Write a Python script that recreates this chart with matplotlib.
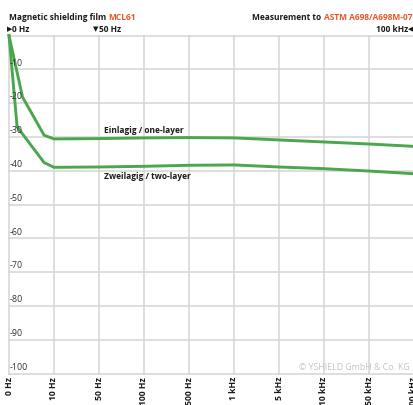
import matplotlib
matplotlib.use("Agg")
import matplotlib.pyplot as plt

plt.rcParams['font.family'] = ['Open Sans', 'DejaVu Sans']

# ---- data ----
categories = ["0 Hz", "10 Hz", "50 Hz", "100 Hz", "500 Hz", "1 kHz",
              "5 kHz", "10 kHz", "50 kHz", "100 kHz"]
cat_pos = list(range(len(categories)))

one_layer_x = [0, 0.30, 0.78, 1, 2, 3, 4, 5, 6, 7, 8, 9]
one_layer_y = [0, -18.2, -29.5, -30.6, -30.5, -30.3, -30.2, -30.3, -30.9, -31.5, -32.1, -32.8]

two_layer_x = [0, 0.18, 0.78, 1, 2, 3, 4, 5, 6, 7, 8, 9]
two_layer_y = [0, -27.0, -37.6, -39.0, -38.9, -38.7, -38.4, -38.3, -38.9, -39.4, -40.1, -40.9]

y_ticks = [0, -10, -20, -30, -40, -50, -60, -70, -80, -90, -100]

GREEN = "#4aa64f"
ORANGE = "#e8552b"
GRID = "#d4d4d4"
DARK = "#1a1a1a"

W, H = 413, 405
fig = plt.figure(figsize=(W / 100, H / 100), dpi=100)
x0, x1 = 9, 413
y_top, y_bot = 35.5, 373.5
ax = fig.add_axes([x0 / W, (H - y_bot) / H, (x1 - x0) / W, (y_bot - y_top) / H])
ax.set_xlim(0, (x1 - x0) / 45.0)
ax.set_ylim(-100, 0)
for s in ax.spines.values():
    s.set_visible(False)
ax.set_xticks([])
ax.set_yticks([])

for p in cat_pos:
    ax.axvline(p, color=GRID, lw=1.1, zorder=1, clip_on=False)
for v in y_ticks:
    ax.axhline(v, color=GRID, lw=1.1, zorder=1, clip_on=False)

ax.plot(one_layer_x, one_layer_y, color=GREEN, lw=2.1, zorder=3, solid_joinstyle='round', clip_on=False)
ax.plot(two_layer_x, two_layer_y, color=GREEN, lw=2.1, zorder=3, solid_joinstyle='round', clip_on=False)

# y tick labels inside plot, above gridlines
for v in y_ticks[1:]:
    ax.text(0.02, v + 0.5, str(v), fontsize=6.4, color="#333333", ha='left', va='bottom', zorder=4)

# x tick labels rotated
for p, lab in zip(cat_pos, categories):
    fig.text((x0 + 45 * p) / W, (H - 377) / H, lab, rotation=90, ha='center', va='top',
             fontsize=6.2, fontweight='bold', color=DARK)

# series labels
ax.text(2.1, -29.4, "Einlagig / one-layer", fontsize=6.0, fontweight='bold', color=DARK,
        ha='left', va='bottom')
ax.text(2.1, -40.3, "Zweilagig / two-layer", fontsize=6.0, fontweight='bold', color=DARK,
        ha='left', va='top')

# watermark
fig.text(410 / W, (H - 367) / H, "\u00a9 YSHIELD GmbH & Co. KG", fontsize=6.3, color="#c4c4c4",
         ha='right', va='center')

# header texts
fig.canvas.draw()
r = fig.canvas.get_renderer()
FS = 6.0
t1 = fig.text(9 / W, (H - 17) / H, "Magnetic shielding film", fontsize=FS, fontweight='bold',
              color=DARK, ha='left', va='center')
bb = t1.get_window_extent(r)
fig.text((bb.x1 + 2.5) / W, (H - 17) / H, "MCL61", fontsize=FS, fontweight='bold',
         color=ORANGE, ha='left', va='center')

t2 = fig.text(412 / W, (H - 17) / H, "ASTM A698/A698M-07", fontsize=FS, fontweight='bold',
              color=ORANGE, ha='right', va='center')
bb2 = t2.get_window_extent(r)
fig.text((bb2.x0 - 2.5) / W, (H - 17) / H, "Measurement to", fontsize=FS, fontweight='bold',
         color=DARK, ha='right', va='center')

fig.text(7 / W, (H - 29) / H, "\u25b6", fontsize=5.0, color=DARK, ha='left', va='center',
         family=['DejaVu Sans'])
fig.text(12 / W, (H - 29) / H, "0 Hz", fontsize=FS, fontweight='bold', color=DARK,
         ha='left', va='center')
fig.text(93 / W, (H - 29) / H, "\u25bc", fontsize=5.0, color=DARK, ha='left', va='center',
         family=['DejaVu Sans'])
fig.text(99 / W, (H - 29) / H, "50 Hz", fontsize=FS, fontweight='bold', color=DARK,
         ha='left', va='center')
fig.text(408 / W, (H - 29) / H, "100 kHz", fontsize=FS, fontweight='bold', color=DARK,
         ha='right', va='center')
fig.text(408 / W, (H - 29) / H, "\u25c0", fontsize=5.0, color=DARK, ha='left', va='center',
         family=['DejaVu Sans'])

fig.savefig("out.png", dpi=100)
